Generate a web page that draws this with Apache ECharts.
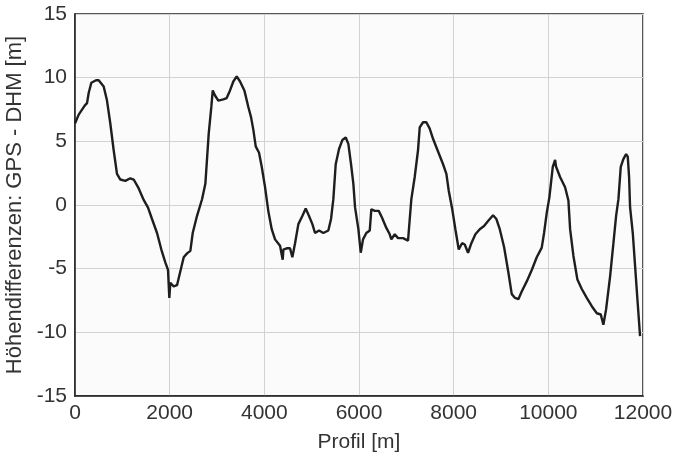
<!DOCTYPE html>
<html>
<head>
<meta charset="utf-8">
<script src="https://cdn.jsdelivr.net/npm/echarts@6/dist/echarts.min.js"></script>
<style>
  html, body { margin: 0; padding: 0; background: #ffffff; }
  #chart { width: 679px; height: 456px; }
</style>
</head>
<body>
<div id="chart"></div>
<script>
// Profil [m]
const profilM = [
  0, 78, 205, 254, 289, 345, 444, 500, 606, 676, 746, 817, 887, 958, 1063, 1169, 1240, 1346, 1451, 1543,
  1627, 1733, 1824, 1908, 1965, 1993, 2014, 2085, 2155, 2226, 2297, 2367, 2437, 2487, 2578, 2684,
  2754, 2825, 2880, 2910, 2958, 3028, 3134, 3205, 3275, 3345, 3416, 3487, 3578, 3662, 3719, 3768, 3818,
  3888, 3945, 4015, 4085, 4156, 4226, 4332, 4388, 4402, 4472, 4543, 4592, 4649, 4719, 4803, 4874, 4944,
  5015, 5071, 5156, 5247, 5352, 5409, 5458, 5508, 5578, 5648, 5720, 5775, 5832, 5881, 5916, 5987, 6037,
  6085, 6155, 6227, 6261, 6332, 6417, 6487, 6578, 6649, 6683, 6755, 6825, 6931, 7036, 7072, 7106,
  7177, 7247, 7283, 7353, 7423, 7494, 7564, 7670, 7776, 7846, 7897, 7966, 8036, 8107, 8177, 8234, 8304,
  8374, 8459, 8551, 8642, 8727, 8832, 8903, 8974, 9065, 9156, 9227, 9297, 9367, 9438, 9544, 9650, 9755,
  9861, 9910, 9967, 10022, 10094, 10143, 10164, 10248, 10354, 10424, 10460, 10530, 10614, 10707, 10812,
  10918, 11024, 11108, 11163, 11220, 11305, 11375, 11432, 11481, 11530, 11585, 11643, 11678, 11706,
  11727, 11784, 11833, 11882, 11938
];
// Höhendifferenz GPS - DHM [m]
const diffM = [
  6.4, 7.1, 7.8, 8.0, 8.8, 9.6, 9.8, 9.8, 9.3, 8.2, 6.4, 4.3, 2.45, 2.0, 1.9, 2.1, 2.0, 1.3, 0.4, -0.2,
  -1.1, -2.2, -3.5, -4.5, -5.1, -7.3, -6.1, -6.4, -6.3, -5.2, -4.1, -3.8, -3.6, -2.2, -0.85, 0.45,
  1.66, 5.6, 7.7, 9.0, 8.6, 8.2, 8.3, 8.4, 9.0, 9.7, 10.1, 9.7, 9.0, 7.7, 6.9, 5.9, 4.6,
  4.1, 3.0, 1.4, -0.5, -1.9, -2.7, -3.2, -4.3, -3.5, -3.4, -3.4, -4.1, -3.0, -1.5, -0.86, -0.28, -0.86,
  -1.5, -2.2, -2.0, -2.2, -2.0, -1.1, 0.46, 3.2, 4.4, 5.1, 5.3, 4.8, 3.2, 1.66, -0.17, -1.9, -3.75,
  -2.7, -2.2, -2.0, -0.33, -0.46, -0.46, -1.0, -1.8, -2.3, -2.7, -2.3, -2.6, -2.6, -2.8, -1.1, 0.46,
  2.2, 4.3, 6.1, 6.5, 6.5, 6.0, 5.2, 4.2, 3.2, 2.45, 1.1, -0.25, -1.9, -3.5, -3.0, -3.1, -3.75,
  -3.0, -2.3, -1.9, -1.65, -1.25, -0.8, -1.1, -1.9, -3.3, -5.3, -7.0, -7.3, -7.4, -6.8, -6.0, -5.1, -4.1,
  -3.35, -2.2, -0.6, 0.6, 3.0, 3.55, 3.0, 2.2, 1.4, 0.35, -1.9, -4.0, -5.85, -6.6, -7.3,
  -7.95, -8.5, -8.6, -9.4, -8.2, -5.6, -3.0, -0.86, 0.46, 3.0, 3.6, 4.0, 3.8, 2.2,
  -0.17, -2.2, -4.8, -7.4, -10.3
];

const chart = echarts.init(document.getElementById('chart'));
const font = 'Liberation Sans, Arial, sans-serif';
const textColor = '#333';

chart.setOption({
  animation: false,
  grid: {
    left: 75, right: 36, top: 14, bottom: 60,
    outerBoundsMode: 'none',
    containLabel: false,
    show: true,
    borderColor: '#222',
    borderWidth: 1.5,
    backgroundColor: '#fbfbfb'
  },
  xAxis: {
    type: 'value',
    min: 0, max: 12000, interval: 2000,
    name: 'Profil [m]',
    nameLocation: 'middle',
    nameGap: 36,
    nameTextStyle: { fontFamily: font, fontSize: 21, color: textColor },
    axisLine: { show: true, onZero: false, lineStyle: { color: '#222', width: 1.5 } },
    axisTick: { show: false },
    axisLabel: { fontFamily: font, fontSize: 21, color: textColor, margin: 7, formatter: v => String(v) },
    splitLine: { show: true, lineStyle: { color: '#d2d2d2', width: 1 } }
  },
  yAxis: {
    type: 'value',
    min: -15, max: 15, interval: 5,
    name: 'Höhendifferenzen: GPS - DHM [m]',
    nameLocation: 'middle',
    nameGap: 36,
    nameTextStyle: { fontFamily: font, fontSize: 22, color: textColor },
    axisLine: { show: true, onZero: false, lineStyle: { color: '#222', width: 1.5 } },
    axisTick: { show: false },
    axisLabel: { fontFamily: font, fontSize: 21, color: textColor, margin: 8, formatter: v => String(v) },
    splitLine: { show: true, lineStyle: { color: '#d2d2d2', width: 1 } }
  },
  series: [
    {
      type: 'line',
      data: profilM.map((x, i) => [x, diffM[i]]),
      showSymbol: false,
      lineStyle: { color: '#1e1e1e', width: 2.4 },
      smooth: false
    }
  ]
});
</script>
</body>
</html>
